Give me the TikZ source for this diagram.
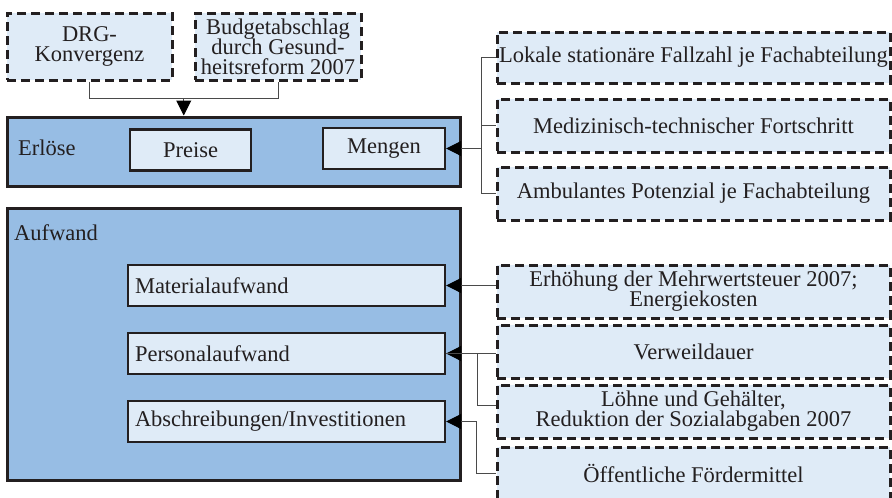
\documentclass[tikz,border=0pt]{standalone}
\usepackage{fontspec}
\setmainfont{Liberation Serif}
\usepackage{xcolor}
\usepackage{tikz}
\usetikzlibrary{arrows.meta,positioning,calc}
\definecolor{boxblue}{HTML}{97BDE4}
\definecolor{paleblue}{HTML}{DFEBF7}
\definecolor{edge}{HTML}{231F20}
\definecolor{wire}{HTML}{4A4A4A}
\setlength{\lineskiplimit}{-30pt}

\begin{document}
\begin{tikzpicture}[
    x=1pt, y=-1pt,
    >={Triangle[length=15pt,width=15pt,color=black]},
    every node/.style={font=\fontsize{22.5}{20}\selectfont, text=edge},
    area/.style={draw=edge, line width=3pt, fill=boxblue, inner sep=0pt, minimum width=453pt},
    item/.style={draw=edge, line width=2.4pt, fill=paleblue, inner sep=0pt, minimum height=41pt},
    cause/.style={draw=edge, line width=3pt, dash pattern=on 9pt off 5pt, fill=paleblue, inner sep=0pt, align=center},
    label/.style={anchor=base west, inner sep=0pt},
    conn/.style={draw=wire, line width=1pt}
]
\useasboundingbox (0,0) rectangle (892,498);

\node[cause, minimum width=165pt, minimum height=67pt] (drg) at (89.5,46.5) {DRG-\\Konvergenz};
\node[cause, minimum width=166pt, minimum height=67pt] (budget) at (278,46.5) {Budgetabschlag\\durch Gesund-\\heitsreform 2007};

\node[area, minimum height=69pt] (erloese) at (233.5,151.5) {};
\node[label] (erloeselabel) at (18,155) {Erlöse};
\node[item, minimum width=121pt] (preise) at (190.5,150) {Preise};
\node[item, minimum width=122pt] (mengen) at (384,148.5) {Mengen};

\node[area, minimum height=272pt] (aufwand) at (233.5,344) {};
\node[label] (aufwandlabel) at (14,240) {Aufwand};
\node[item, minimum width=317pt, text width=303pt, align=left] (material) at (286.5,285.5) {Materialaufwand};
\node[item, minimum width=317pt, text width=303pt, align=left] (personal) at (286.5,353.5) {Personalaufwand};
\node[item, minimum width=317pt, text width=303pt, align=left] (abschreib) at (286.5,421.5) {Abschreibungen/Investitionen};

\node[cause, minimum width=393pt, minimum height=51pt] (lokal) at (693.5,57.5) {Lokale stationäre Fallzahl je Fachabteilung};
\node[cause, minimum width=393pt, minimum height=53pt] (medizin) at (693.5,125.5) {Medizinisch-technischer Fortschritt};
\node[cause, minimum width=393pt, minimum height=53pt] (ambulant) at (693.5,193.5) {Ambulantes Potenzial je Fachabteilung};

\node[cause, minimum width=393pt, minimum height=53pt] (mwst) at (693.5,291.5) {Erhöhung der Mehrwertsteuer 2007;\\Energiekosten};
\node[cause, minimum width=393pt, minimum height=53pt] (verweil) at (693.5,351.5) {Verweildauer};
\node[cause, minimum width=393pt, minimum height=53pt] (loehne) at (693.5,411.5) {Löhne und Gehälter,\\Reduktion der Sozialabgaben 2007};
\node[cause, minimum width=393pt, minimum height=53pt] (foerder) at (693.5,473.5) {Öffentliche Fördermittel};

\coordinate (topjoin) at ($(drg.south)!0.5!(budget.south)+(0,17)$);
\draw[conn] (drg.south) |- (topjoin) -| (budget.south);
\draw[conn, ->] (topjoin) -- (topjoin |- erloese.north);

\draw[conn] (lokal.west) -- ++(-14,0) |- (ambulant.west);
\draw[conn] (medizin.west) -- ++(-14,0);
\draw[conn, ->] (mengen.east -| lokal.west) ++(-14,0) -- (mengen.east);

\draw[conn, ->] (material.east -| mwst.west) -- (material.east);
\draw[conn, ->] (personal.east -| verweil.west) -- (personal.east);
\draw[conn] ($(loehne.west)+(0,-6)$) -- ++(-18,0) |- (personal.east);
\draw[conn, ->] (foerder.west) -- ++(-19,0) |- (abschreib.east);
\end{tikzpicture}
\end{document}
